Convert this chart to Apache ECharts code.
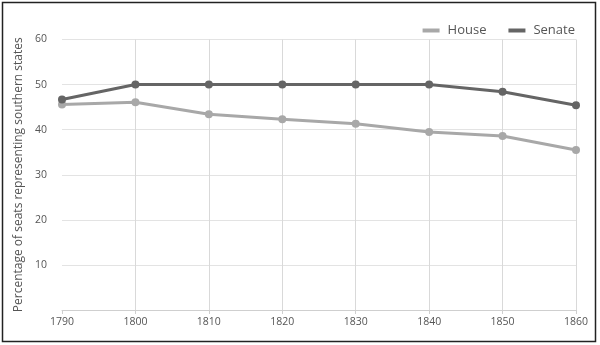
<!DOCTYPE html>
<html>
<head>
<meta charset="utf-8">
<script src="https://cdn.jsdelivr.net/npm/echarts@6/dist/echarts.min.js"></script>
<style>
html,body{margin:0;padding:0;background:#fff;}
#c{width:600px;height:345px;}
</style>
</head>
<body>
<div id="c"></div>
<script>
var years = [1790, 1800, 1810, 1820, 1830, 1840, 1850, 1860];
var house = [45.6, 46.1, 43.4, 42.3, 41.3, 39.5, 38.6, 35.5];
var senate = [46.7, 50.0, 50.0, 50.0, 50.0, 50.0, 48.4, 45.4];
var yTicks = [10, 20, 30, 40, 50, 60];
var seriesNames = ['House', 'Senate'];
var yTitle = 'Percentage of seats representing southern states';

var FONT = '"Open Sans", "Noto Sans", sans-serif';
var chart = echarts.init(document.getElementById('c'), null, {renderer: 'canvas'});

function pairs(vals) { return years.map(function (y, i) { return [y, vals[i]]; }); }

chart.setOption({
  animation: false,
  backgroundColor: '#fff',
  textStyle: {fontFamily: FONT},
  graphic: [{
    type: 'rect',
    shape: {x: 2.5, y: 2.5, width: 593, height: 339},
    style: {fill: 'none', stroke: '#222', lineWidth: 1.5},
    silent: true
  }],
  legend: {
    right: 20, top: 19,
    itemWidth: 17, itemHeight: 4, itemGap: 22,
    icon: 'rect',
    textStyle: {fontFamily: FONT, fontSize: 13, color: '#555', padding: [0, 0, 0, 3]},
    data: seriesNames
  },
  grid: {left: 62, right: 24, top: 39.5, bottom: 35, containLabel: false},
  xAxis: {
    type: 'value', min: 1790, max: 1860, interval: 10,
    axisLine: {show: true, lineStyle: {color: '#cfcfcf', width: 1}},
    axisTick: {show: true, length: 4, lineStyle: {color: '#cfcfcf'}},
    axisLabel: {fontFamily: FONT, fontSize: 10.5, color: '#555', margin: 7,
      formatter: function (v) { return String(v); }},
    splitLine: {show: true, showMinLine: false, lineStyle: {color: '#d9d9d9', width: 1}}
  },
  yAxis: {
    type: 'value', min: 0, max: 60, interval: 10,
    name: yTitle, nameLocation: 'middle', nameGap: 36, nameRotate: 90,
    nameTextStyle: {fontFamily: FONT, fontSize: 12, color: '#555'},
    axisLine: {show: false},
    axisTick: {show: false},
    axisLabel: {
      fontFamily: FONT, fontSize: 10.5, color: '#555', margin: 15,
      formatter: function (v) { return yTicks.indexOf(v) >= 0 ? String(v) : ''; }
    },
    splitLine: {show: true, showMinLine: false, lineStyle: {color: '#e3e3e3', width: 1}}
  },
  series: [
    {
      name: seriesNames[0], type: 'line', data: pairs(house),
      symbol: 'circle', symbolSize: 8,
      lineStyle: {color: '#a8a8a8', width: 3},
      itemStyle: {color: '#a8a8a8'},
      z: 2
    },
    {
      name: seriesNames[1], type: 'line', data: pairs(senate),
      symbol: 'circle', symbolSize: 8,
      lineStyle: {color: '#656565', width: 3},
      itemStyle: {color: '#656565'},
      z: 3
    }
  ]
});
</script>
</body>
</html>
